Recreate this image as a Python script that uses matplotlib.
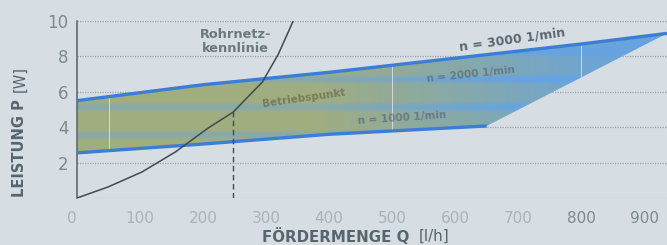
import numpy as np
import matplotlib.pyplot as plt
from matplotlib.patches import Polygon

# pump curves
q_top = [0, 200, 400, 600, 800, 936]          # n = 3000 1/min
p_top = [5.5, 6.4, 7.1, 7.9, 8.7, 9.3]
q_low = [0, 200, 400, 650]                    # n = 1000 1/min
p_low = [2.55, 3.05, 3.6, 4.07]

# system curve (Rohrnetzkennlinie)
q_sys = [0, 49, 103, 156, 208, 248, 294, 319, 343]
p_sys = [0, 0.62, 1.47, 2.6, 3.95, 4.86, 6.55, 8.1, 10]

q_op = 248
p_op = 4.86

xticks = [0, 100, 200, 300, 400, 500, 600, 700, 800, 900]
yticks = [2, 4, 6, 8, 10]

bg = "#d6dee3"
txt = "#56656e"

fig = plt.figure(figsize=(6.67, 2.45), dpi=100, facecolor=bg)
ax = fig.add_axes([77/667, 1-198/245, 1-77/667, 177/245])
ax.set_facecolor(bg)
ax.set_xlim(0, 936)
ax.set_ylim(0, 10)

# grid
for y in yticks:
    ax.axhline(y, color="#9aa5ab", lw=0.9, ls=(0, (1, 1)), zorder=1)
ax.axhline(0, color="#9aa5ab", lw=0.9, ls=(0, (1, 1)), zorder=1)

# band polygon
band = list(zip(q_top, p_top)) + list(zip(q_low, p_low))[::-1]
poly = Polygon(band, closed=True, facecolor="none", edgecolor="none")
ax.add_patch(poly)

# colour field for the band (green-yellow on the left, blue on the right)
nx, ny = 300, 160
xx, yy = np.meshgrid(np.linspace(0, 1, nx), np.linspace(0, 1, ny))
green = np.array([0.63, 0.68, 0.50])
blue = np.array([0.40, 0.64, 0.88])
w = np.clip((xx - 0.4) * 1.8, 0, 1) + 0.45 * np.clip(np.sin(yy * 40), 0, 1) ** 3
w = np.clip(w, 0, 1)[..., None]
img = green * (1 - w) + blue * w
im = ax.imshow(img, extent=[0, 936, 0, 10], origin="lower", aspect="auto",
               zorder=2, interpolation="bilinear")
im.set_clip_path(poly)

for xv in [50, 500, 800]:
    ln, = ax.plot([xv, xv], [0, 10], color="#d8e4ea", lw=0.6, zorder=2.5)
    ln.set_clip_path(poly)

ax.plot(q_top, p_top, color="#3a7ed6", lw=2.4, zorder=3, solid_capstyle="butt")
ax.plot(q_low, p_low, color="#3a7ed6", lw=2.4, zorder=3, solid_capstyle="butt")

# system curve and operating point
ax.plot(q_sys, p_sys, color="#3f4a52", lw=1.1, zorder=4)
ax.plot([q_op, q_op], [0, p_op], color="#3f4a52", lw=1.0, ls=(0, (4, 2.5)), zorder=4)

ax.text(252, 8.84, "Rohrnetz-\nkennlinie", color="#6b7880", fontsize=9.3,
        fontweight="bold", ha="center", va="center", linespacing=1.15, zorder=5)
ax.text(690, 8.95, "n = 3000 1/min", color="#5a6770", fontsize=9,
        fontweight="bold", ha="center", va="center", rotation=8, zorder=5)
ax.text(625, 7.0, "n = 2000 1/min", color="#4d5050", fontsize=7.5,
        fontweight="bold", ha="center", va="center", rotation=6, zorder=5, alpha=0.5)
ax.text(515, 4.55, "n = 1000 1/min", color="#3a3f70", fontsize=7.5,
        fontweight="bold", ha="center", va="center", rotation=4, zorder=5, alpha=0.45)
ax.text(360, 5.65, "Betriebspunkt", color="#4a4030", fontsize=7.5,
        fontweight="bold", ha="center", va="center", rotation=8, zorder=5, alpha=0.45)

# axes styling
for s in ["top", "right", "bottom"]:
    ax.spines[s].set_visible(False)
ax.spines["left"].set_color("#5f6b72")
ax.spines["left"].set_linewidth(1.2)
ax.set_xticks(xticks)
ax.set_yticks(yticks)
ax.set_xticklabels([str(v) for v in xticks])
ax.tick_params(axis="x", length=0, pad=9, labelsize=11, labelcolor="#a9b3b8")
ax.tick_params(axis="y", length=0, pad=6, labelsize=12, labelcolor="#7d8a91")
for lab in ax.get_xticklabels()[-2:]:
    lab.set_color("#7d8a91")
ax.get_xticklabels()[0].set_horizontalalignment("right")

fig.text(20/667, 1-148/245, "LEISTUNG P", rotation=90, color=txt, fontsize=10.5,
         fontweight="bold", ha="center", va="center")
fig.text(20/667, 1-92/245, "[W]", rotation=90, color=txt, fontsize=10.5,
         ha="center", va="bottom")
fig.text(336/667, 1-236/245, "FÖRDERMENGE Q", color=txt, fontsize=10.8,
         fontweight="bold", ha="center", va="center")
fig.text(419/667, 1-236/245, "[l/h]", color=txt, fontsize=10.8,
         ha="left", va="center")

fig.savefig("out.png", dpi=100, facecolor=bg)
